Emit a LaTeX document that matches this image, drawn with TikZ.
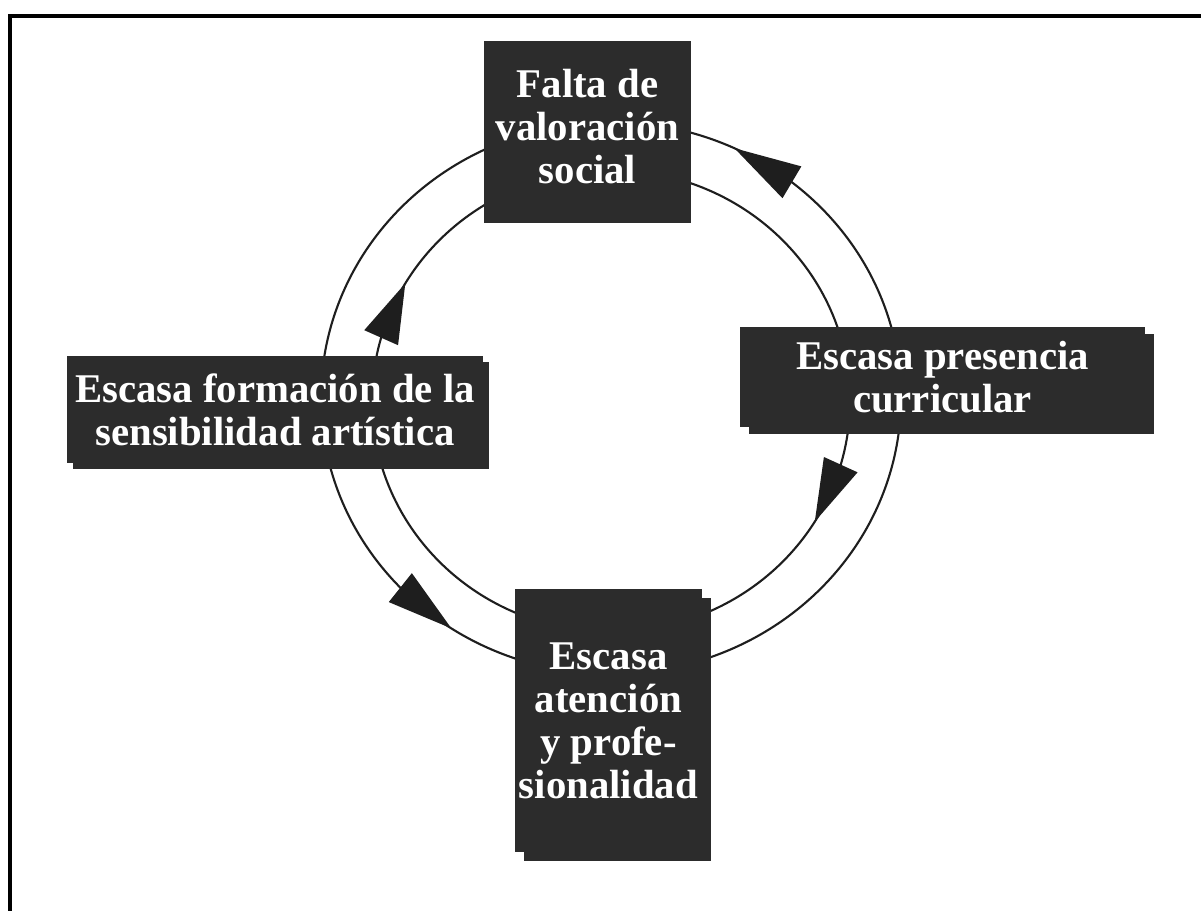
\documentclass[tikz,border=0pt]{standalone}
\usepackage{fontspec}
\setmainfont{Liberation Serif}
\usetikzlibrary{calc,shadows}
\definecolor{boxfill}{RGB}{44,44,44}
\definecolor{linecol}{RGB}{30,30,30}
\begin{document}
\begin{tikzpicture}[x=0.025cm,y=0.025cm,
  box/.style={fill=boxfill, text=white, align=center, inner sep=0pt, outer sep=0pt,
    font=\bfseries\fontsize{29}{30.6}\selectfont},
  ring/.style={draw=linecol, line width=1.5pt},
  head/.style={fill=linecol},
  frame/.style={line width=2.85pt, line cap=rect}]
\useasboundingbox (0,0) rectangle (1201,911);
% frame
\draw[frame] (10,0) -- (10,895) -- (1205,895);
% centres of the two rings
\coordinate (Co) at (611,513);
\coordinate (Ci) at (611,510);
% outer ring arcs
\draw[ring] (Co) ++(14:290 and 276) arc[start angle=14, end angle=76, x radius=290, y radius=276];
\draw[ring] (Co) ++(115:290 and 276) arc[start angle=115, end angle=173, x radius=290, y radius=276];
\draw[ring] (Co) ++(194:290 and 276) arc[start angle=194, end angle=252, x radius=290, y radius=276];
\draw[ring] (Co) ++(289:290 and 276) arc[start angle=289, end angle=353, x radius=290, y radius=276];
% inner ring arcs
\draw[ring] (Ci) ++(170:239 and 231) arc[start angle=170, end angle=121, x radius=239, y radius=231];
\draw[ring] (Ci) ++(71:239 and 231) arc[start angle=71, end angle=18, x radius=239, y radius=231];
\draw[ring] (Ci) ++(-8:239 and 231) arc[start angle=-8, end angle=-66, x radius=239, y radius=231];
\draw[ring] (Ci) ++(247:239 and 231) arc[start angle=247, end angle=196, x radius=239, y radius=231];
% arrow heads
\path (Co) ++(64.8:290 and 276) coordinate (h1t);
\path (Co) ++(51.4:290 and 276) coordinate (h1b);
\path (Co) ++(236.6:290 and 276) coordinate (h2t);
\path (Co) ++(223.4:290 and 276) coordinate (h2b);
\path (Ci) ++(149.4:239 and 231) coordinate (h3t);
\path (Ci) ++(164.1:239 and 231) coordinate (h3b);
\path (Ci) ++(-31.5:239 and 231) coordinate (h4t);
\path (Ci) ++(-16:239 and 231) coordinate (h4b);
\foreach \h in {h1,h2,h3,h4}{
  \fill[head] (\h t) -- ($(\h b)!0.4625cm!90:(\h t)$) -- ($(\h b)!0.4625cm!-90:(\h t)$) -- cycle;
}
% boxes
\node[box, minimum width=5.175cm, minimum height=4.55cm] (top) at (587.5,779)
  {\raisebox{0.15cm}{\begin{tabular}{@{}c@{}}Falta de\\valoración\\social\end{tabular}}};
\node[box, minimum width=10.125cm, minimum height=2.5cm,
  general shadow={fill=boxfill, shadow xshift=0.225cm, shadow yshift=-0.175cm}] (right) at (942.5,534)
  {Escasa presencia\\curricular};
\node[box, minimum width=10.4cm, minimum height=2.675cm,
  general shadow={fill=boxfill, shadow xshift=0.15cm, shadow yshift=-0.16cm}] (left) at (275,501.5)
  {Escasa formación de la\\sensibilidad artística};
\node[box, minimum width=4.675cm, minimum height=6.575cm,
  general shadow={fill=boxfill, shadow xshift=0.225cm, shadow yshift=-0.225cm}] (bottom) at (608.5,190.5)
  {Escasa\\atención\\y profe-\\sionalidad};
\end{tikzpicture}
\end{document}
